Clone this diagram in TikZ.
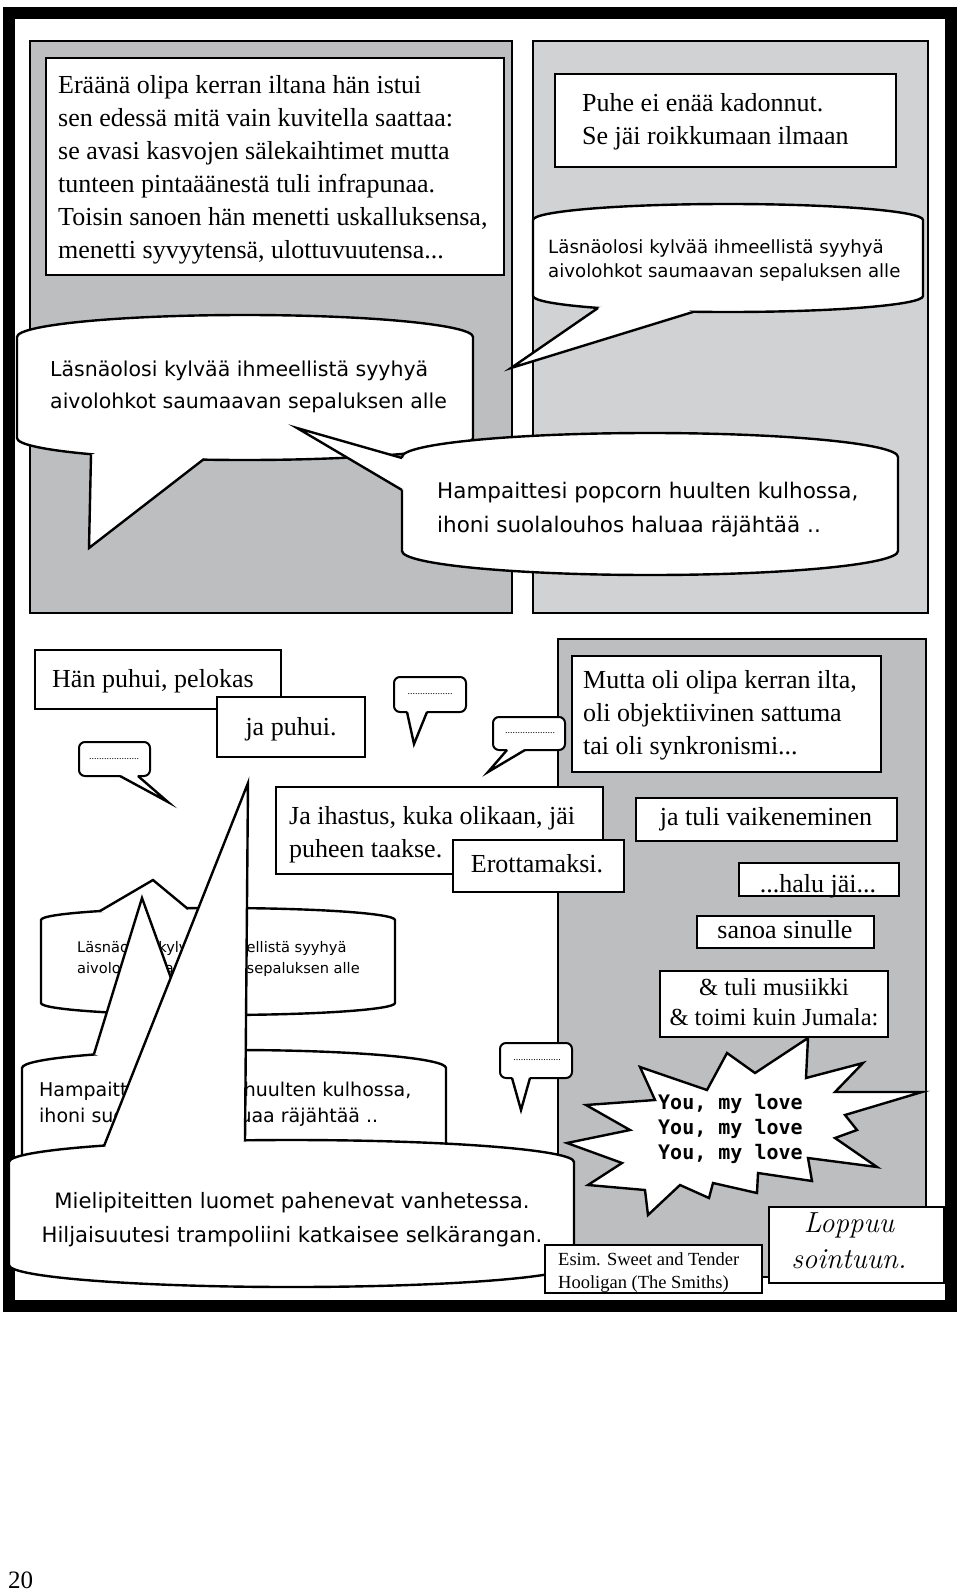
\documentclass[tikz,border=0pt]{standalone}
\usepackage{fontspec}
\setmainfont{Liberation Serif}
\newfontfamily\comicfont{DejaVu Sans}
\newfontfamily\typefont{DejaVu Sans Mono}
\newfontfamily\handfont{Latin Modern Roman}
\definecolor{paneldark}{RGB}{189,190,192}
\definecolor{panellight}{RGB}{209,210,212}

% speech bubble body: left, top, right, bottom, corner depth
\newcommand{\speechbody}[5]{%
  \filldraw[bub] (#1,#2+#5)
    .. controls (#1,#2+0.45*#5) and ({#1+0.224*(#3-#1)},#2) .. ({(#1+#3)/2},#2)
    .. controls ({#3-0.224*(#3-#1)},#2) and (#3,#2+0.45*#5) .. (#3,#2+#5)
    -- (#3,#4-#5)
    .. controls (#3,#4-0.45*#5) and ({#3-0.224*(#3-#1)},#4) .. ({(#1+#3)/2},#4)
    .. controls ({#1+0.224*(#3-#1)},#4) and (#1,#4-0.45*#5) .. (#1,#4-#5)
    -- cycle;}
% tail: base, tip, base, a point inside the bubble
\newcommand{\speechtail}[4]{%
  \fill[white] #1 -- #2 -- #3 -- #4 -- cycle;
  \draw[bubline] #1 -- #2 -- #3;}

\begin{document}
\begin{tikzpicture}[x=1pt, y=-1pt,
    panel/.style={draw=black, line width=2pt},
    txtbox/.style={draw=black, fill=white, line width=2.6pt},
    bub/.style={draw=black, fill=white, line width=2.4pt},
    bubline/.style={draw=black, line width=2.4pt, line join=miter, miter limit=20},
    chip/.style={draw=black, fill=white, line width=2pt, rounded corners=6pt},
    tell/.style={inner sep=0pt, font=\fontsize{26}{33}\selectfont},
    talk/.style={inner sep=0pt, align=left, anchor=base west},
    dots/.style={inner sep=0pt, font=\fontsize{10}{10}\selectfont}]
  \fill[white, use as bounding box] (0,0) rectangle (960,1592);
  % page frame
  \draw[line width=12pt] (9,13) rectangle (951,1306);

  % top left panel
  \draw[panel, fill=paneldark] (30,41) rectangle (512,613);
  \draw[txtbox] (46,58) rectangle (504,275);
  \node[tell, anchor=base west, align=left] (erana) at (58,258) {%
    Eräänä olipa kerran iltana hän istui\\
    sen edessä mitä vain kuvitella saattaa:\\
    se avasi kasvojen sälekaihtimet mutta\\
    tunteen pintaäänestä tuli infrapunaa.\\
    Toisin sanoen hän menetti uskalluksensa,\\
    menetti syvyytensä, ulottuvuutensa...};

  % top right panel
  \draw[panel, fill=panellight] (533,41) rectangle (928,613);
  \draw[txtbox] (555,74) rectangle (896,167);
  \node[tell, anchor=base west, align=left] (puhe) at (582,145) {%
    Puhe ei enää kadonnut.\\
    Se jäi roikkumaan ilmaan};

  % bubbles of the top row
  \speechbody{17}{315}{473}{460}{22}
  \speechtail{(91,455)}{(89,548)}{(204,459)}{(150,430)}
  \node[talk, font=\comicfont\fontsize{20.5}{32}\selectfont] (lasna1) at (50,408) {%
    Läsnäolosi kylvää ihmeellistä syyhyä\\
    aivolohkot saumaavan sepaluksen alle};

  \speechbody{533}{204}{923}{312}{16}
  \speechtail{(598,308)}{(511,368)}{(693,312)}{(640,290)}
  \node[talk, font=\comicfont\fontsize{18.2}{24}\selectfont] (lasna2) at (548,277) {%
    Läsnäolosi kylvää ihmeellistä syyhyä\\
    aivolohkot saumaavan sepaluksen alle};

  \speechbody{402}{433}{898}{575}{24}
  \speechtail{(402,458)}{(297,428)}{(402,490)}{(440,475)}
  \node[talk, font=\comicfont\fontsize{21.5}{34}\selectfont] (hampa1) at (437,532) {%
    Hampaittesi popcorn huulten kulhossa,\\
    ihoni suolalouhos haluaa räjähtää ..};

  % bottom right panel
  \draw[panel, fill=paneldark] (558,639) rectangle (926,1277);

  % captions on white
  \draw[txtbox] (35,650) rectangle (281,709);
  \node[tell, anchor=base west] (pelokas) at (52,687) {Hän puhui, pelokas};
  \draw[txtbox] (217,697) rectangle (365,757);
  \node[tell, anchor=base] (japuhui) at (291,735) {ja puhui.};

  \draw[chip] (79,742) rectangle (150,776);
  \speechtail{(120,776)}{(168,802)}{(138,776)}{(129,765)}
  \node[dots] (hiljaa1) at (114,759) {....................};
  \draw[chip] (394,677) rectangle (466,712);
  \speechtail{(407,712)}{(414,744)}{(427,712)}{(417,700)}
  \node[dots] (hiljaa2) at (430,694) {..................};
  \draw[chip] (493,717) rectangle (565,750);
  \speechtail{(507,750)}{(488,772)}{(525,750)}{(516,738)}
  \node[dots] (hiljaa3) at (530,733) {....................};

  \draw[txtbox] (276,787) rectangle (603,874);
  \node[tell, anchor=base west, align=left] (ihastus) at (289,857) {%
    Ja ihastus, kuka olikaan, jäi\\
    puheen taakse.};
  \draw[txtbox] (453,840) rectangle (624,892);
  \node[tell, anchor=base] (erotta) at (537,872) {Erottamaksi.};

  % captions in the grey panel
  \draw[txtbox] (572,656) rectangle (881,772);
  \node[tell, anchor=base west, align=left] (mutta) at (583,754) {%
    Mutta oli olipa kerran ilta,\\
    oli objektiivinen sattuma\\
    tai oli synkronismi...};
  \draw[txtbox] (636,798) rectangle (897,841);
  \node[tell, anchor=base] (vaike) at (766,825) {ja tuli vaikeneminen};
  \draw[txtbox] (739,863) rectangle (899,896);
  \node[tell, anchor=base] (halu) at (818,892) {...halu jäi...};
  \draw[txtbox] (697,916) rectangle (874,948);
  \node[tell, anchor=base] (sanoa) at (785,938) {sanoa sinulle};
  \draw[txtbox] (660,971) rectangle (888,1037);
  \node[tell, anchor=base, align=center, font=\fontsize{24.5}{30}\selectfont] (musiikki) at (774,1025) {%
    \& tuli musiikki\\
    \& toimi kuin Jumala:};

  % bubbles of the bottom left
  \speechbody{41}{908}{395}{1015}{12}
  \speechtail{(100,911)}{(153,880)}{(188,909)}{(145,930)}
  \node[talk, font=\comicfont\fontsize{14.6}{21}\selectfont] (lasna3) at (77,973) {%
    Läsnäolosi kylvää ihmeellistä syyhyä\\
    aivolohkot saumaavan sepaluksen alle};

  \speechbody{22}{1050}{446}{1178}{18}
  \speechtail{(94,1054)}{(142,898)}{(197,1050)}{(150,1075)}
  \node[talk, font=\comicfont\fontsize{19}{26}\selectfont] (hampa2) at (39,1122) {%
    Hampaittesi popcorn huulten kulhossa,\\
    ihoni suolalouhos haluaa räjähtää ..};

  \speechbody{9}{1140}{574}{1287}{22}
  \speechtail{(104,1146)}{(248,783)}{(245,1141)}{(175,1170)}
  \node[inner sep=0pt, anchor=base, align=center, font=\comicfont\fontsize{21.2}{34}\selectfont] (mieli) at (292,1242) {%
    Mielipiteitten luomet pahenevat vanhetessa.\\
    Hiljaisuutesi trampoliini katkaisee selkärangan.};

  \draw[chip] (500,1043) rectangle (572,1078);
  \speechtail{(512,1078)}{(521,1110)}{(530,1078)}{(521,1066)}
  \node[dots] (hiljaa4) at (537,1060) {...................};

  % song burst
  \filldraw[bub, line join=miter] (727,1053) -- (755,1073) -- (808,1038) -- (806,1078)
    -- (863,1063) -- (835,1092) -- (922,1092) -- (845,1115) -- (857,1130)
    -- (835,1138) -- (877,1167) -- (808,1158) -- (812,1181) -- (758,1173)
    -- (757,1193) -- (713,1183) -- (709,1198) -- (680,1185) -- (648,1215)
    -- (645,1190) -- (588,1185) -- (622,1163) -- (567,1143) -- (630,1130)
    -- (586,1105) -- (655,1100) -- (640,1067) -- (707,1090) -- cycle;
  \node[talk, font=\typefont\bfseries\fontsize{20}{25}\selectfont] (love) at (658,1159) {%
    You, my love\\
    You, my love\\
    You, my love};

  % notes at the bottom
  \draw[txtbox] (545,1245) rectangle (762,1293);
  \node[talk, font=\fontsize{18.5}{23}\selectfont] (esim) at (558,1288) {%
    Esim. Sweet and Tender\\
    Hooligan (The Smiths)};
  \draw[txtbox] (769,1207) rectangle (944,1283);
  \node[inner sep=0pt, anchor=base, align=center, font=\handfont\itshape\fontsize{29}{36}\selectfont] (loppuu) at (849,1268) {%
    Loppuu\\
    sointuun.};

  \node[inner sep=0pt, anchor=base west, font=\fontsize{25}{25}\selectfont] (sivu) at (8,1588) {20};
\end{tikzpicture}
\end{document}
